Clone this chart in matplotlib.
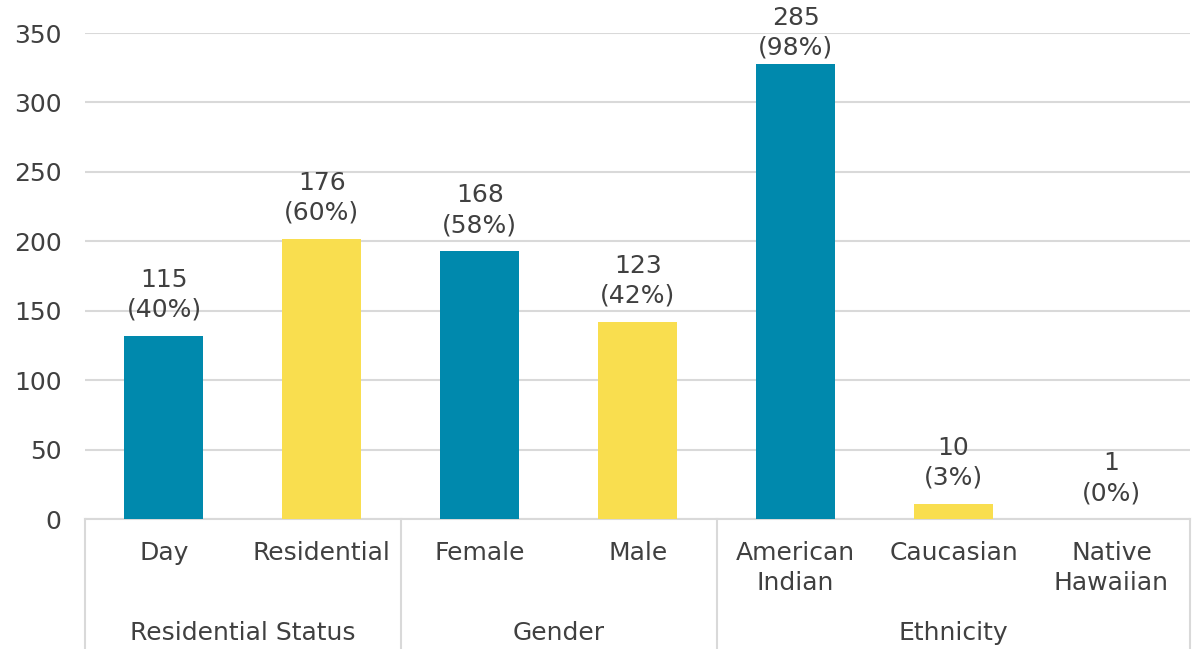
import matplotlib.pyplot as plt

categories = ["Day", "Residential", "Female", "Male", "American\nIndian", "Caucasian", "Native\nHawaiian"]
bar_values = [132, 202, 193, 142, 328, 11, 0]
counts = [115, 176, 168, 123, 285, 10, 1]
percents = [40, 60, 58, 42, 98, 3, 0]
groups = ["Residential Status", "Gender", "Ethnicity"]
group_sizes = [2, 2, 3]

TEAL = "#0089AD"
YELLOW = "#F9DE4F"
TXT = "#404040"
GRID = "#D9D9D9"
FS = 18

plt.rcParams["font.family"] = ["DejaVu Sans"]

fig = plt.figure(figsize=(11.94, 6.49), dpi=100)
ax = fig.add_axes([0.0712, 0.2003, 0.9258, 0.7488])

x = list(range(len(categories)))
colors = [TEAL, YELLOW, TEAL, YELLOW, TEAL, YELLOW, TEAL]
ax.bar(x, bar_values, width=0.5, color=colors, zorder=3)

for xi, v, c, p in zip(x, bar_values, counts, percents):
    # top label gets squeezed down in the original, like Excel does
    off = 3 if v > 300 else 10
    ax.annotate(f"{c}\n({p}%)", (xi, v), xytext=(0, off), textcoords="offset points",
                ha="center", va="bottom", fontsize=FS, color=TXT, linespacing=1.3,
                annotation_clip=False)

ax.set_xlim(-0.5, len(categories) - 0.5)
ax.set_ylim(0, 350)
ax.set_yticks(range(0, 351, 50))
ax.yaxis.grid(True, color=GRID, linewidth=1.5, zorder=0)
ax.set_axisbelow(True)
for s in ["top", "right", "left"]:
    ax.spines[s].set_visible(False)
ax.spines["bottom"].set_color(GRID)
ax.spines["bottom"].set_linewidth(1.5)
ax.tick_params(axis="y", length=0, labelsize=FS, labelcolor=TXT, pad=17)
ax.tick_params(axis="x", length=0, labelsize=FS, labelcolor=TXT, pad=16)
ax.set_xticks(x)
ax.set_xticklabels(categories, linespacing=1.3, va="top")

# group boundaries and labels
trans = ax.get_xaxis_transform()
start = 0
bounds = [-0.5]
for g, n in zip(groups, group_sizes):
    mid = start + (n - 1) / 2
    ax.text(mid, -0.235, g, transform=trans, ha="center", va="center", fontsize=FS, color=TXT)
    start += n
    bounds.append(start - 0.5)
for b in bounds:
    ax.plot([b, b], [0, -0.27], transform=trans, color=GRID, linewidth=1.5, clip_on=False)

fig.savefig("out.png", dpi=100)
